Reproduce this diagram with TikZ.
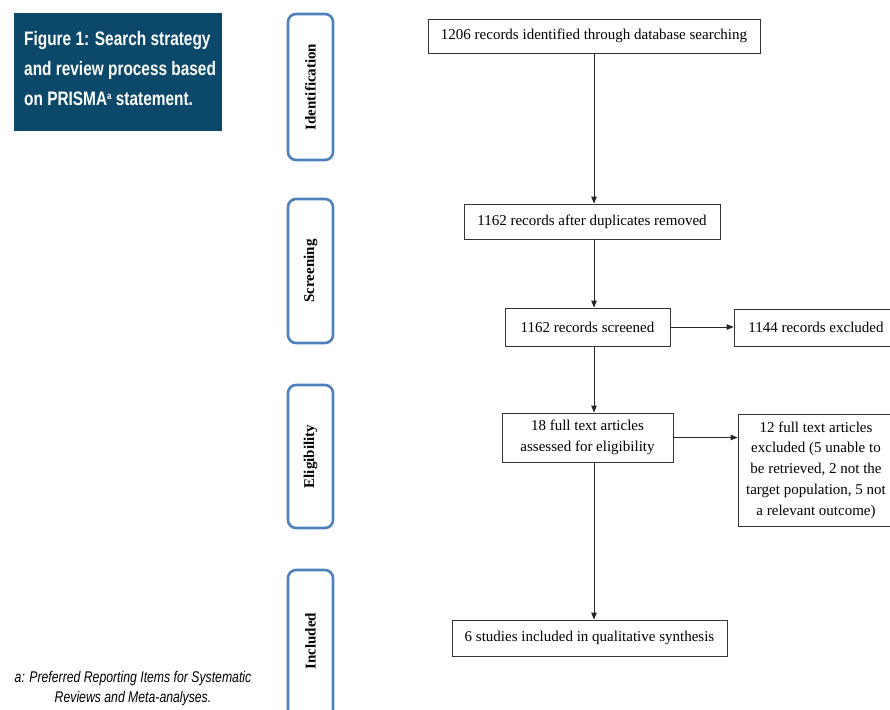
\documentclass[tikz,border=0pt]{standalone}
\usepackage{fontspec}
\setmainfont{Liberation Serif}
\newfontfamily\titlefont[FakeStretch=0.79]{Liberation Sans}
\usetikzlibrary{arrows.meta}
\definecolor{titleblue}{RGB}{11,72,106}
\definecolor{phaseblue}{RGB}{79,129,189}
\tikzset{
  flowbox/.style={draw=black!80, line width=0.8pt, align=center, inner sep=0pt, font=\fontsize{15}{20.7}\selectfont},
  phasebox/.style={draw=phaseblue, line width=2.6pt, rounded corners=8pt, minimum width=45pt, inner sep=0pt},
  phaselabel/.style={rotate=90, font=\fontsize{15}{16}\selectfont\bfseries},
  flowarrow/.style={draw=black!85, line width=0.8pt, -{Triangle[length=7pt,width=5.5pt]}}
}
\begin{document}
\begin{tikzpicture}[x=1pt,y=-1pt]
\useasboundingbox (0,0) rectangle (890,709);
% title
\node[fill=titleblue, minimum width=208pt, minimum height=118pt, inner sep=0pt, anchor=north west] (title) at (14,13) {};
\node[anchor=north west, text=white, align=left, inner sep=0pt, font=\titlefont\bfseries\fontsize{19.5}{30}\selectfont] (titletext) at (24,31)
  {Figure 1: Search strategy\\and review process based\\on PRISMA\raisebox{5.5pt}{\fontsize{10}{10}\selectfont a} statement.};
% footnote
\node[align=center, inner sep=0pt, font=\titlefont\itshape\fontsize{15.5}{20}\selectfont] (foot) at (133,688)
  {a: Preferred Reporting Items for Systematic\\Reviews and Meta-analyses.};
% phase boxes
\node[phasebox, minimum height=146pt] (ident) at (310.5,87) {};
\node[phaselabel] (identl) at (ident) {Identification};
\node[phasebox, minimum height=144pt] (screen) at (310.5,271) {};
\node[phaselabel] (screenl) at (screen) {Screening};
\node[phasebox, minimum height=143pt] (elig) at (310.5,456.5) {};
\node[phaselabel] (eligl) at (elig) {Eligibility};
\node[phasebox, minimum height=180pt] (incl) at (310.5,660) {};
\node[phaselabel] (incll) at (310.5,641) {Included};
% flow boxes
\node[flowbox, minimum width=332pt, minimum height=34pt] (b1) at (594,36) {1206 records identified through database searching};
\node[flowbox, minimum width=256pt, minimum height=35pt] (b2) at (592,221.5) {1162 records after duplicates removed};
\node[flowbox, minimum width=165pt, minimum height=38pt] (b3) at (587.5,327) {1162 records screened};
\node[flowbox, minimum width=171pt, minimum height=49pt] (b4) at (587.5,437.5) {18 full text articles\\assessed for eligibility};
\node[flowbox, minimum width=275pt, minimum height=36pt] (b5) at (589.5,638) {6 studies included in qualitative synthesis};
\node[flowbox, minimum width=164pt, minimum height=37pt] (b6) at (816,327.5) {1144 records excluded};
\node[flowbox, minimum width=156pt, minimum height=112pt] (b7) at (816,470) {12 full text articles\\excluded (5 unable to\\be retrieved, 2 not the\\target population, 5 not\\a relevant outcome)};
% arrows
\coordinate (ax) at (594,0);
\draw[flowarrow] (b1.south -| ax) -- (b2.north -| ax);
\draw[flowarrow] (b2.south -| ax) -- (b3.north -| ax);
\draw[flowarrow] (b3.south -| ax) -- (b4.north -| ax);
\draw[flowarrow] (b4.south -| ax) -- (b5.north -| ax);
\draw[flowarrow] (b3.east) -- (b6.west |- b3.east);
\draw[flowarrow] (b4.east) -- (b7.west |- b4.east);
\end{tikzpicture}
\end{document}
